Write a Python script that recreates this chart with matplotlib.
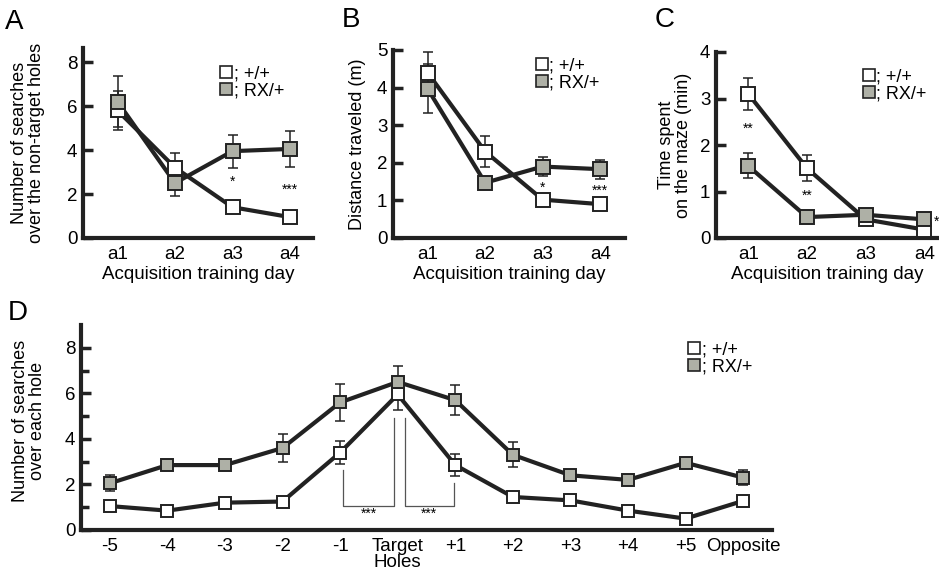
import matplotlib.pyplot as plt

plt.rcParams['font.family'] = ['Liberation Sans', 'DejaVu Sans']

# === DATA ===
days = ['a1', 'a2', 'a3', 'a4']

# A: searches over non-target holes
a_wt = [5.8, 3.2, 1.4, 0.95]
a_wt_err = [0.9, 0.65, 0.15, 0.15]
a_rx = [6.2, 2.5, 3.95, 4.05]
a_rx_err = [1.15, 0.6, 0.75, 0.8]
a_stars = [(2, 2.55, '*'), (3, 2.2, '***')]

# B: distance traveled (m)
b_wt = [4.4, 2.3, 1.02, 0.9]
b_wt_err = [0.55, 0.4, 0.08, 0.08]
b_rx = [3.97, 1.47, 1.9, 1.83]
b_rx_err = [0.65, 0.1, 0.25, 0.25]
b_stars = [(2, 1.33, '*'), (3, 1.25, '***')]

# C: time spent on the maze (min)
c_wt = [3.1, 1.5, 0.4, 0.18]
c_wt_err = [0.35, 0.28, 0.05, 0.05]
c_rx = [1.55, 0.45, 0.5, 0.4]
c_rx_err = [0.27, 0.05, 0.08, 0.05]
c_stars = [(0, 2.35, '**'), (1, 0.9, '**'), (3.2, 0.34, '*')]

# D: searches over each hole
holes = ['-5', '-4', '-3', '-2', '-1', 'Target\nHoles', '+1', '+2', '+3', '+4', '+5', 'Opposite']
d_wt = [1.05, 0.85, 1.2, 1.25, 3.4, 5.95, 2.85, 1.45, 1.3, 0.85, 0.5, 1.28]
d_wt_err = [0.1, 0.1, 0.1, 0.1, 0.5, 0.7, 0.5, 0.1, 0.1, 0.1, 0.1, 0.1]
d_rx = [2.05, 2.85, 2.85, 3.6, 5.6, 6.5, 5.7, 3.3, 2.4, 2.2, 2.95, 2.3]
d_rx_err = [0.35, 0.1, 0.2, 0.6, 0.8, 0.7, 0.65, 0.55, 0.1, 0.2, 0.1, 0.33]
d_brackets = [([4.05, 4.05, 4.93, 4.93], [2.62, 1.05, 1.05, 4.9]),
              ([5.12, 5.12, 5.97, 5.97], [4.9, 1.05, 1.05, 2.05])]
d_stars = [(4.5, 0.7, '***'), (5.55, 0.7, '***')]

LINE = '#222222'
GRAY = '#aeb0a6'
W, H = 939, 573
TICK_FS = 13.5
LABEL_FS = 13.5

fig = plt.figure(figsize=(W / 100, H / 100), dpi=100)
fig.patch.set_facecolor('white')


def make_ax(left, right, top, bottom):
    return fig.add_axes([left / W, 1 - bottom / H, (right - left) / W, (bottom - top) / H])


def series(ax, y, err, face, ms):
    x = range(len(y))
    ax.errorbar(x, y, yerr=err, fmt='none', ecolor=LINE, elinewidth=1.1,
                capsize=3.5, capthick=1.1, zorder=2)
    ax.plot(x, y, '-', color=LINE, lw=3, zorder=3, solid_capstyle='round')
    ax.plot(x, y, 's', ms=ms, mfc=face, mec=LINE, mew=1.4, zorder=4, ls='none')


def style(ax, yticks, minor=None):
    for s in ['top', 'right']:
        ax.spines[s].set_visible(False)
    for s in ['left', 'bottom']:
        ax.spines[s].set_linewidth(3)
        ax.spines[s].set_color(LINE)
    ax.set_yticks(yticks)
    if minor is not None:
        ax.set_yticks(minor, minor=True)
    ax.tick_params(axis='y', which='major', direction='in', length=7, width=2.5,
                   labelsize=TICK_FS, pad=4, color=LINE)
    ax.tick_params(axis='y', which='minor', direction='in', length=6, width=2.5, color=LINE)
    ax.tick_params(axis='x', length=0, labelsize=TICK_FS, pad=6)


def legend(ax, x, y, ms):
    h1, = ax.plot([], [], 's', ms=ms, mfc='white', mec=LINE, mew=1.2)
    h2, = ax.plot([], [], 's', ms=ms, mfc=GRAY, mec=LINE, mew=1.2)
    ax.legend([h1, h2], ['; +/+', '; RX/+'], loc='upper left', bbox_to_anchor=(x, y),
              frameon=False, fontsize=13, handlelength=0.6, handletextpad=0.1,
              labelspacing=0.0, borderpad=0, borderaxespad=0)


def stars(ax, items):
    for x, y, s in items:
        ax.text(x, y, s, ha='center', va='center', fontsize=10, clip_on=False)


# Panel A
axA = make_ax(83, 313, 48, 238)
series(axA, a_wt, a_wt_err, 'white', 10.5)
series(axA, a_rx, a_rx_err, GRAY, 10.5)
style(axA, [0, 2, 4, 6, 8])
axA.set_xlim(-0.6, 3.4)
axA.set_ylim(0, 8.64)
axA.set_xticks(range(len(days)), days)
axA.set_xlabel('Acquisition training day', fontsize=LABEL_FS, labelpad=2)
axA.set_ylabel('Number of searches\nover the non-target holes', fontsize=13, linespacing=1.0)
axA.yaxis.set_label_coords(-0.165, 0.5)
stars(axA, a_stars)
legend(axA, 0.6, 0.91, 9)

# Panel B
axB = make_ax(393, 625, 50, 238)
series(axB, b_wt, b_wt_err, 'white', 10)
series(axB, b_rx, b_rx_err, GRAY, 10)
style(axB, [0, 1, 2, 3, 4, 5])
axB.set_xlim(-0.6, 3.43)
axB.set_ylim(0, 5)
axB.set_xticks(range(len(days)), days)
axB.set_xlabel('Acquisition training day', fontsize=LABEL_FS, labelpad=2)
axB.set_ylabel('Distance traveled (m)', fontsize=13)
axB.yaxis.set_label_coords(-0.115, 0.5)
stars(axB, b_stars)
legend(axB, 0.62, 0.96, 9)

# Panel C
axC = make_ax(716, 939, 52, 238)
series(axC, c_wt, c_wt_err, 'white', 10.5)
series(axC, c_rx, c_rx_err, GRAY, 10.5)
style(axC, [0, 1, 2, 3, 4])
axC.set_xlim(-0.55, 3.25)
axC.set_ylim(0, 4)
axC.set_xticks(range(len(days)), days)
axC.set_xlabel('Acquisition training day', fontsize=LABEL_FS, labelpad=2)
axC.set_ylabel('Time spent\non the maze (min)', fontsize=13, linespacing=1.0)
axC.yaxis.set_label_coords(-0.108, 0.5)
stars(axC, c_stars)
legend(axC, 0.66, 0.91, 9)

# Panel D
axD = make_ax(81, 772, 325, 530)
for bx, by in d_brackets:
    axD.plot(bx, by, color='#555555', lw=0.9, zorder=1)
series(axD, d_wt, d_wt_err, 'white', 8.5)
series(axD, d_rx, d_rx_err, GRAY, 8.5)
style(axD, [0, 2, 4, 6, 8], minor=[1, 3, 5, 7])
axD.set_xlim(-0.5, 11.5)
axD.set_ylim(0, 9)
axD.set_xticks(range(len(holes)), holes)
for lab in axD.get_xticklabels():
    lab.set_linespacing(0.9)
axD.set_ylabel('Number of searches\nover each hole', fontsize=13, linespacing=1.0)
axD.yaxis.set_label_coords(-0.05, 0.53)
stars(axD, d_stars)
legend(axD, 0.88, 0.92, 8.5)

# Panel letters
for x, y, s in [(5, 22, 'A'), (342, 20, 'B'), (655, 20, 'C'), (8, 313, 'D')]:
    fig.text(x / W, 1 - y / H, s, fontsize=20, va='center', ha='left')

fig.savefig('out.png', dpi=100, facecolor='white')
